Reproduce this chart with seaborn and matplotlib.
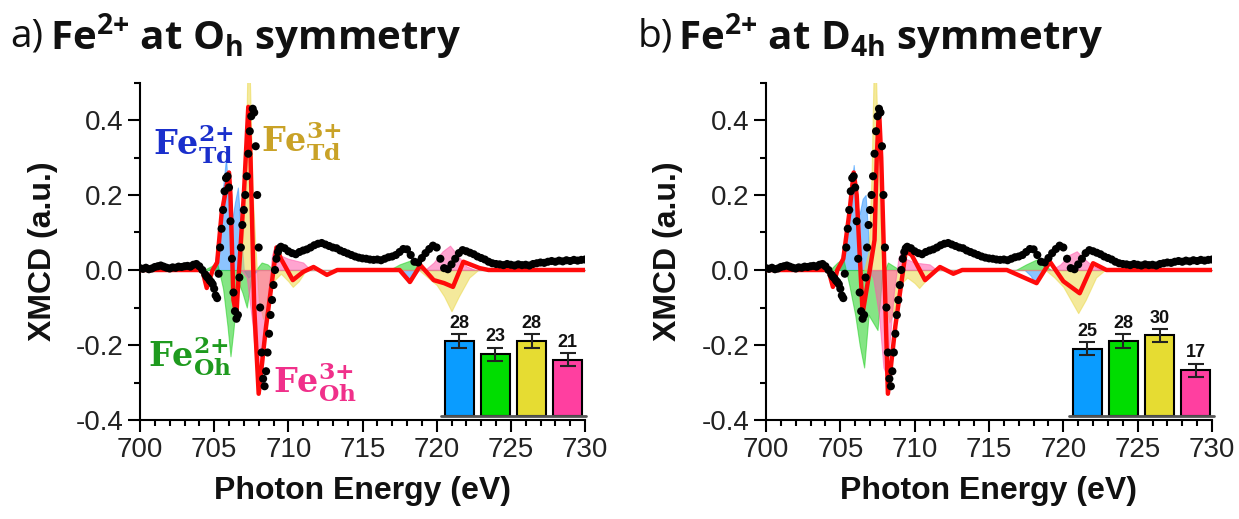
import numpy as np
import matplotlib
matplotlib.use("Agg")
import matplotlib.pyplot as plt
from matplotlib.ticker import MultipleLocator
import seaborn as sns

# Experimental XMCD (same data in both panels)
exp_seg1 = [0.005, 0.003, 0.006, 0.002, 0.004, 0.008, 0.010, 0.012, 0.009, 0.006, 0.004, 0.007,
            0.006, 0.009, 0.008, 0.010, 0.011, 0.009, 0.014, 0.016, 0.010, 0.000, -0.012]
exp_seg2 = [-0.018, -0.022, -0.028, -0.032, -0.038, -0.050, -0.068, -0.075,
            -0.010, 0.060, 0.110, 0.160, 0.210, 0.245, 0.250, 0.220,
            0.130, 0.030, -0.060, -0.110, -0.130, -0.120,
            -0.020, 0.060, 0.120, 0.160, 0.200, 0.250, 0.310, 0.370, 0.410, 0.430, 0.420,
            0.330, 0.200, 0.060, -0.100, -0.220, -0.290, -0.310, -0.270, -0.220, -0.170,
            -0.120, -0.080, -0.040, 0.000, 0.030, 0.048, 0.058, 0.062]
exp_seg3 = [0.058, 0.050, 0.045, 0.042, 0.048, 0.052, 0.055, 0.060, 0.066, 0.070,
            0.072, 0.068, 0.064, 0.060, 0.058, 0.052, 0.048, 0.044, 0.040, 0.036,
            0.033, 0.031, 0.030, 0.028, 0.027, 0.028, 0.026, 0.030, 0.034, 0.036,
            0.040, 0.048, 0.056, 0.055, 0.040, 0.022, 0.020, 0.032, 0.045, 0.056,
            0.065, 0.060, 0.030, 0.005, 0.002, 0.015, 0.030, 0.045, 0.053, 0.050,
            0.046, 0.042, 0.036, 0.032, 0.028, 0.022, 0.018, 0.016, 0.015, 0.013,
            0.016, 0.014, 0.012, 0.015, 0.013, 0.014, 0.012, 0.016, 0.018, 0.020,
            0.019, 0.022, 0.024, 0.022, 0.025, 0.023, 0.026, 0.024, 0.027, 0.025,
            0.027, 0.028]
exp_energy = np.concatenate([np.linspace(700.0, 704.4, len(exp_seg1)),
                             np.linspace(704.5, 709.5, len(exp_seg2)),
                             np.linspace(709.75, 730.0, len(exp_seg3))])
exp_xmcd = np.array(exp_seg1 + exp_seg2 + exp_seg3)

# Fits, panel a (Oh)
fit_a_e = [700, 704.2, 704.5, 704.9, 705.2, 705.5, 706.0, 706.1, 706.3, 706.5, 706.6, 707.0,
           707.3, 707.45, 707.7, 708.0, 708.5, 709.2, 709.5, 710.3, 711.0, 711.7, 712.6, 713.3,
           717.5, 718.2, 718.9, 719.8, 720.5, 721.1, 721.8, 722.9, 723.5, 730]
fit_a_v = [0, 0, -0.048, 0.0, 0.02, 0.15, 0.26, 0.20, -0.08, -0.12, -0.05, 0.20,
           0.435, 0.30, -0.10, -0.33, -0.15, 0.06, 0.03, -0.027, -0.005, 0.008, -0.013, 0.0,
           0.0, -0.032, 0.013, -0.027, -0.035, -0.045, 0.022, 0.005, 0, 0]

td2_a_e = [704.6, 705.0, 705.3, 705.6, 705.8, 706.0, 706.2, 706.4, 706.6, 706.8, 707.0, 707.3,
           708.0, 717.4, 717.8, 718.1, 718.4, 718.8, 730]
td2_a_v = [0, 0.01, 0.08, 0.22, 0.30, 0.17, 0.13, 0.18, 0.22, 0.10, 0.0, -0.02,
           0, 0, -0.015, -0.035, -0.02, 0, 0]
oh2_a_e = [704.3, 704.8, 705.2, 705.6, 705.9, 706.1, 706.3, 706.6, 706.9, 707.2, 707.5, 707.8,
           708.2, 708.6, 709.0, 709.5, 716.8, 717.5, 718.2, 718.8, 719.2, 730]
oh2_a_v = [0, 0.01, 0.02, -0.05, -0.15, -0.23, -0.16, -0.03, -0.06, -0.10, -0.02, 0.0,
           0.02, 0.015, 0.0, 0.0, 0, 0.015, 0.025, 0.01, 0, 0]
td3_e = [706.6, 706.9, 707.1, 707.25, 707.4, 707.6, 707.8, 708.0, 708.3, 708.6, 709.0, 709.5,
         710.0, 710.3, 710.7, 711.2, 718.8, 719.4, 720.0, 720.5, 721.0, 721.5, 722.2, 722.8, 730]
td3_a_v = [0, 0.05, 0.25, 0.55, 0.52, 0.20, 0.05, -0.08, -0.13, -0.10, -0.03, -0.01,
           -0.03, -0.045, -0.03, 0, 0, -0.02, -0.04, -0.07, -0.11, -0.07, -0.02, 0, 0]
oh3_e = [706.8, 707.2, 707.6, 707.9, 708.1, 708.3, 708.6, 708.9, 709.1, 709.4, 710.0, 711.0,
         711.5, 719.2, 719.8, 720.4, 720.9, 721.4, 722.0, 722.6, 730]
oh3_a_v = [0, -0.02, -0.15, -0.30, -0.32, -0.25, -0.08, 0.04, 0.065, 0.04, 0.03, 0.02,
           0, 0, 0.02, 0.05, 0.065, 0.04, 0.01, 0, 0]

# Fits, panel b (D4h)
fit_b_e = [700, 704.2, 704.5, 704.8, 705.2, 705.6, 705.9, 706.1, 706.5, 706.9, 707.3, 707.45,
           707.6, 707.75, 708.2, 708.7, 709.4, 709.8, 710.7, 711.7, 712.6, 713.2, 716.2,
           718.2, 719.1, 720.0, 721.1, 722.0, 722.9, 730]
fit_b_v = [0, 0, -0.045, 0.0, 0.03, 0.15, 0.26, 0.20, -0.115, -0.02, 0.08, 0.30,
           0.43, 0.30, -0.33, -0.15, 0.05, 0.04, -0.027, 0.008, -0.01, 0, 0,
           -0.035, 0.022, -0.03, -0.062, 0.018, 0, 0]
td2_b_e = [704.6, 705.0, 705.3, 705.6, 705.9, 706.1, 706.3, 706.5, 706.7, 706.9, 707.1, 708.0,
           717.4, 717.8, 718.1, 718.4, 718.8, 730]
td2_b_v = [0, 0.02, 0.08, 0.18, 0.28, 0.18, 0.15, 0.19, 0.20, 0.08, 0, 0,
           0, -0.015, -0.035, -0.02, 0, 0]
oh2_b_e = [704.3, 704.8, 705.2, 705.6, 706.0, 706.3, 706.6, 706.9, 707.2, 707.5, 707.8, 708.2,
           708.6, 709.0, 716.8, 717.5, 718.2, 718.8, 719.2, 730]
oh2_b_v = [0, 0.02, 0.03, -0.04, -0.12, -0.20, -0.26, -0.12, -0.14, -0.16, -0.02, 0.02,
           0.01, 0, 0, 0.015, 0.028, 0.01, 0, 0]
td3_b_v = [0, 0.05, 0.25, 0.55, 0.52, 0.20, 0.05, -0.08, -0.14, -0.11, -0.04, -0.02,
           -0.035, -0.048, -0.03, 0, 0, -0.02, -0.045, -0.08, -0.115, -0.08, -0.02, 0, 0]
oh3_b_v = [0, -0.02, -0.12, -0.26, -0.28, -0.20, -0.06, 0.03, 0.05, 0.03, 0.02, 0.015,
           0, 0, 0.015, 0.04, 0.05, 0.03, 0.01, 0, 0]

# Site weights (%)
sites = ["Td2+", "Oh2+", "Td3+", "Oh3+"]
weights_a = [28, 23, 28, 21]
weights_b = [25, 28, 30, 17]
err_a = [2.5, 2.5, 2.5, 2.5]
err_b = [2.4, 2.5, 2.5, 2.5]

bar_colors = ["#0A9CFF", "#00DD00", "#E6DC32", "#FF3FA0"]
fill_colors = ["#2E95FF", "#22D022", "#EBD84A", "#FF5AAA"]

sns.set_theme(style="ticks")
plt.rcParams["font.family"] = ["Liberation Sans", "DejaVu Sans"]
plt.rcParams["axes.unicode_minus"] = False
plt.rcParams["mathtext.fontset"] = "custom"
plt.rcParams["mathtext.rm"] = "Open Sans"
plt.rcParams["mathtext.bf"] = "Open Sans:bold"

fig = plt.figure(figsize=(12.39, 5.19), dpi=100)
W, H = 1239, 519


def spectrum(ax, comps, fit_e, fit_v):
    for (ce, cv), col in zip(comps, fill_colors):
        ax.fill_between(ce, 0, cv, color=col, alpha=0.55, lw=0.8, zorder=1)
    sns.lineplot(x=fit_e, y=fit_v, ax=ax, color="#FF0A0A", lw=3.2, sort=False,
                 estimator=None, zorder=3)
    sns.scatterplot(x=exp_energy, y=exp_xmcd, ax=ax, color="black", s=34,
                    edgecolor="none", zorder=4)
    ax.set_xlim(700, 730)
    ax.set_ylim(-0.4, 0.5)
    ax.set_xticks(np.arange(700, 731, 5))
    ax.set_yticks([-0.4, -0.2, 0.0, 0.2, 0.4])
    ax.set_yticklabels(["-0.4", "-0.2", "0.0", "0.2", "0.4"])
    ax.xaxis.set_minor_locator(MultipleLocator(1))
    ax.yaxis.set_minor_locator(MultipleLocator(0.1))
    ax.tick_params(which="major", length=8.6, width=1.5, labelsize=20, color="black",
                   labelcolor="#222222")
    ax.tick_params(which="minor", length=4.3, width=1.5, color="black")
    for s in ["top", "right"]:
        ax.spines[s].set_visible(False)
    for s in ["left", "bottom"]:
        ax.spines[s].set_linewidth(1.5)
        ax.spines[s].set_color("black")
    ax.set_xlabel("Photon Energy (eV)", fontsize=23, fontweight="bold", color="#111111")
    ax.set_ylabel("XMCD (a.u.)", fontsize=23, fontweight="bold", color="#111111")
    ax.xaxis.set_label_coords(0.5, -0.165)
    ax.yaxis.set_label_coords(-0.185, 0.5)


def inset(rect, weights, errs):
    iax = fig.add_axes(rect)
    sns.barplot(x=sites, y=weights, hue=sites, palette=bar_colors, ax=iax,
                edgecolor="black", linewidth=1.5, width=0.8, legend=False, saturation=1)
    iax.errorbar(range(len(weights)), weights, yerr=errs, fmt="none", ecolor="#222222",
                 elinewidth=1.5, capsize=6, capthick=1.5)
    for i, (w, e) in enumerate(zip(weights, errs)):
        iax.text(i, w + e + 0.8, str(w), ha="center", va="bottom", fontsize=13,
                 fontweight="bold", color="#111111")
    iax.set_xlim(-0.5, 3.5)
    iax.set_ylim(0, 35)
    iax.axis("off")
    iax.axhline(0, color="#555555", lw=2, clip_on=False)
    iax.patch.set_alpha(0)


ax_a = fig.add_axes([140 / W, (H - 420) / H, 445 / W, 337.5 / H])
spectrum(ax_a, [(td2_a_e, td2_a_v), (oh2_a_e, oh2_a_v), (td3_e, td3_a_v), (oh3_e, oh3_a_v)],
         fit_a_e, fit_a_v)
ax_b = fig.add_axes([766 / W, (H - 420) / H, 446 / W, 337.5 / H])
spectrum(ax_b, [(td2_b_e, td2_b_v), (oh2_b_e, oh2_b_v), (td3_e, td3_b_v), (oh3_e, oh3_b_v)],
         fit_b_e, fit_b_v)

inset([441 / W, (H - 416) / H, 145 / W, 94 / H], weights_a, err_a)
inset([1069 / W, (H - 416) / H, 145 / W, 94 / H], weights_b, err_b)

# site labels in panel a
lab_kw = dict(fontsize=24, math_fontfamily="dejavuserif", ha="center", va="center")
ax_a.text(703.6, 0.335, r"$\mathbf{Fe^{2{+}}_{Td}}$", color="#1A2FCC", **lab_kw)
ax_a.text(710.9, 0.345, r"$\mathbf{Fe^{3{+}}_{Td}}$", color="#C9A227", **lab_kw)
ax_a.text(703.4, -0.23, r"$\mathbf{Fe^{2{+}}_{Oh}}$", color="#1E9A1E", **lab_kw)
ax_a.text(711.8, -0.30, r"$\mathbf{Fe^{3{+}}_{Oh}}$", color="#F0308A", **lab_kw)

# panel titles
fig.text(10 / W, 1 - 37 / H, "a)", fontsize=28, family="Open Sans", va="center", color="#111111")
fig.text(50 / W, 1 - 37 / H, r"Fe$^{\mathbf{2{+}}}$ at O$_{\mathbf{h}}$ symmetry", fontsize=29,
         family="Open Sans", fontweight="bold", va="center", color="#111111")
fig.text(638 / W, 1 - 37 / H, "b)", fontsize=28, family="Open Sans", va="center", color="#111111")
fig.text(678 / W, 1 - 37 / H, r"Fe$^{\mathbf{2{+}}}$ at D$_{\mathbf{4h}}$ symmetry", fontsize=29,
         family="Open Sans", fontweight="bold", va="center", color="#111111")

fig.savefig("out.png", dpi=100)
